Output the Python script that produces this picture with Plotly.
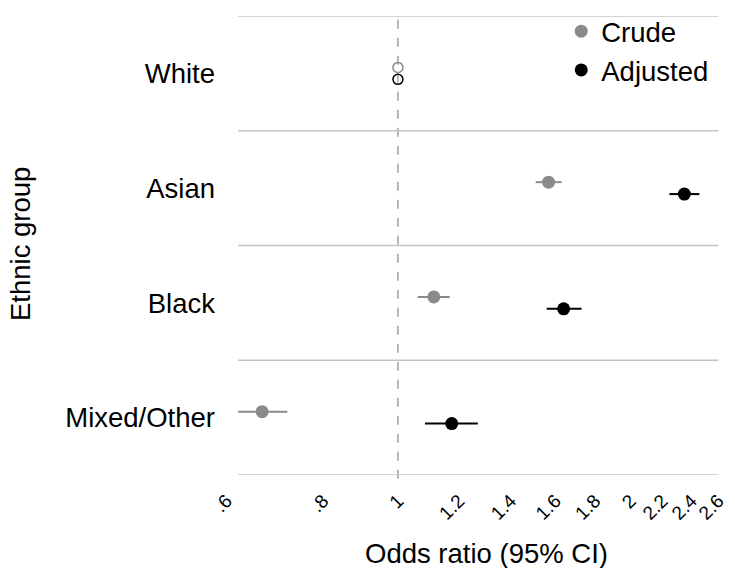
import plotly.graph_objects as go
import math

groups = ["White", "Asian", "Black", "Mixed/Other"]
crude_or = [1.0, 1.567, 1.113, 0.667]
crude_lo = [1.0, 1.508, 1.061, 0.621]
crude_hi = [1.0, 1.629, 1.167, 0.719]
adj_or = [1.0, 2.349, 1.639, 1.174]
adj_lo = [1.0, 2.247, 1.558, 1.084]
adj_hi = [1.0, 2.457, 1.729, 1.269]
tick_vals = [0.6, 0.8, 1, 1.2, 1.4, 1.6, 1.8, 2, 2.2, 2.4, 2.6]
tick_text = [".6", ".8", "1", "1.2", "1.4", "1.6", "1.8", "2", "2.2", "2.4", "2.6"]

CRUDE = "#8a8a8a"
ADJ = "#000000"
FONT = "Liberation Sans, Arial, Helvetica, sans-serif"

pos = list(range(1, len(groups) + 1))
off = 0.052

fig = go.Figure()
for name, orv, lo, hi, col, sgn in [("Crude", crude_or, crude_lo, crude_hi, CRUDE, -1),
                                     ("Adjusted", adj_or, adj_lo, adj_hi, ADJ, 1)]:
    ys = [p + sgn * off for p in pos]
    # reference group (hollow marker)
    fig.add_trace(go.Scatter(
        x=orv[:1], y=ys[:1], mode="markers", showlegend=False, hoverinfo="skip",
        marker=dict(color=col, size=10, symbol="circle-open", opacity=1,
                    line=dict(color=col, width=1.5)),
    ))
    fig.add_trace(go.Scatter(
        x=orv[1:], y=ys[1:], mode="markers", name=name,
        marker=dict(color=col, size=13, symbol="circle", opacity=1,
                    line=dict(width=0)),
        error_x=dict(type="data", symmetric=False,
                     array=[h - o for h, o in zip(hi[1:], orv[1:])],
                     arrayminus=[o - l for o, l in zip(orv[1:], lo[1:])],
                     color=col, thickness=2, width=0),
    ))

shapes = []
for b in [0.5, 1.5, 2.5, 3.5, 4.5]:
    shapes.append(dict(type="line", xref="x", yref="y", x0=0.621, x1=2.6, y0=b, y1=b,
                       line=dict(color="#c4c4c4", width=1.5), layer="below"))
shapes.append(dict(type="line", xref="x", yref="paper", x0=1, x1=1, y0=-0.008, y1=1,
                   line=dict(color="#a0a0a0", width=1.5, dash="dash"), layer="below"))

fig.update_layout(
    width=719, height=560,
    margin=dict(l=218, r=8, t=8, b=93, autoexpand=False),
    paper_bgcolor="white", plot_bgcolor="white",
    font=dict(family=FONT, color="black", size=27.5),
    showlegend=True,
    legend=dict(x=0.68, y=1.02, xanchor="left", yanchor="top",
                font=dict(size=27.5), bgcolor="rgba(0,0,0,0)",
                itemwidth=30, tracegroupgap=0),
    shapes=shapes,
    xaxis=dict(type="log", range=[math.log10(0.6) - 0.0008, math.log10(2.6) + 0.0008],
               tickvals=tick_vals, ticktext=tick_text, tickangle=-45,
               tickfont=dict(size=19), ticks="", showgrid=False, zeroline=False,
               showline=False, ticklabelstandoff=10, automargin=False,
               ticklabeloverflow="allow"),
    yaxis=dict(range=[4.5, 0.5], tickvals=pos, ticktext=groups,
               tickfont=dict(size=27.5), ticks="", showgrid=False, zeroline=False,
               showline=False, ticklabelstandoff=10, automargin=False),
    annotations=[
        dict(text="Odds ratio (95% CI)", xref="paper", yref="paper", x=0.529, y=-0.170,
             xanchor="center", yanchor="middle", showarrow=False, font=dict(size=27.5)),
        dict(text="Ethnic group", xref="paper", yref="paper", x=-0.418, y=0.503,
             xanchor="center", yanchor="middle", textangle=-90, showarrow=False,
             font=dict(size=27.5)),
    ],
)

fig.write_html("out.html")
